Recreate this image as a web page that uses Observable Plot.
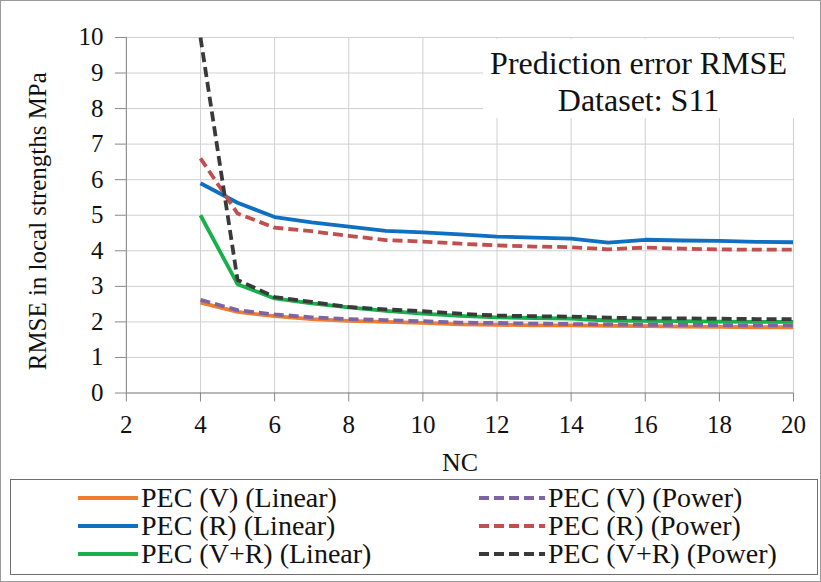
<!DOCTYPE html>
<html><head><meta charset="utf-8">
<script src="https://cdn.jsdelivr.net/npm/d3@7"></script>
<script src="https://cdn.jsdelivr.net/npm/@observablehq/plot@0.6"></script>
<style>
html,body{margin:0;padding:0;background:#fff;}
#wrap{position:relative;width:819px;height:580px;border:1px solid #9a9a9a;font-family:'Liberation Serif';overflow:hidden;}
#chart{position:absolute;left:-1px;top:-1px;}
#titlebox{position:absolute;left:482px;top:38px;width:311px;height:79px;background:#fff;text-align:center;font-size:32px;line-height:37px;color:#111;padding-top:6px;box-sizing:border-box;font-family:'Liberation Serif';white-space:nowrap;}
#legend{position:absolute;left:9px;top:478px;width:808px;height:96px;border:1px solid #6e6e6e;box-sizing:border-box;background:#fff;}
.item{position:absolute;height:28px;display:flex;align-items:center;font-size:28px;line-height:28px;color:#111;white-space:nowrap;font-family:'Liberation Serif';}
.item svg{margin-right:3px;}
</style></head>
<body>
<div id="wrap">
  <div id="chart"></div>
  <div id="titlebox">Prediction error RMSE<br>Dataset: S11</div>
  <div id="legend"></div>
</div>
<script>
const nc = [4,5,6,7,8,9,10,11,12,13,14,15,16,17,18,19,20];
const vLinear  = [2.54,2.28,2.16,2.08,2.03,2.00,1.97,1.93,1.92,1.90,1.90,1.89,1.88,1.87,1.86,1.85,1.85];
const vPower   = [2.62,2.33,2.21,2.13,2.08,2.05,2.02,1.98,1.97,1.95,1.94,1.93,1.92,1.92,1.91,1.90,1.90];
const rLinear  = [5.90,5.35,4.95,4.80,4.68,4.56,4.52,4.46,4.40,4.37,4.34,4.23,4.31,4.29,4.28,4.25,4.24];
const rPower   = [6.60,5.05,4.65,4.55,4.42,4.30,4.26,4.20,4.15,4.12,4.10,4.04,4.09,4.06,4.04,4.03,4.03];
const vrLinear = [5.00,3.06,2.66,2.52,2.41,2.31,2.23,2.17,2.13,2.11,2.09,2.04,2.03,2.02,2.01,2.00,2.00];
const vrPower  = [10.0,3.18,2.70,2.56,2.42,2.35,2.30,2.23,2.18,2.16,2.15,2.12,2.10,2.10,2.09,2.08,2.08];
const xTicks = [2,4,6,8,10,12,14,16,18,20];
const yTicks = [0,1,2,3,4,5,6,7,8,9,10];

const series = [
  {name:"PEC (V) (Linear)", values:vLinear, color:"#ED7D31", dash:null},
  {name:"PEC (R) (Linear)", values:rLinear, color:"#0F6FC0", dash:null},
  {name:"PEC (V+R) (Linear)", values:vrLinear, color:"#17B04A", dash:null},
  {name:"PEC (V) (Power)", values:vPower, color:"#8064A2", dash:"10,5"},
  {name:"PEC (R) (Power)", values:rPower, color:"#C0504D", dash:"10,5"},
  {name:"PEC (V+R) (Power)", values:vrPower, color:"#3A3A3A", dash:"10,5"}
];
const rows = s => nc.map((x,i)=>({x, y:s.values[i]}));
const FONT = "'Liberation Serif'";

const plot = Plot.plot({
  width: 821, height: 582,
  marginLeft: 126, marginRight: 27, marginTop: 37, marginBottom: 189,
  style: {fontFamily:FONT, fontSize:"25px", color:"#111", background:"transparent"},
  x: {domain:[2,20], ticks:xTicks, label:null},
  y: {domain:[0,10], ticks:yTicks, label:null},
  marks: [
    Plot.gridX(xTicks, {stroke:"#d0d0d0", strokeOpacity:1}),
    Plot.gridY(yTicks, {stroke:"#d0d0d0", strokeOpacity:1}),
    Plot.ruleX([2], {stroke:"#888"}),
    Plot.ruleY([0], {stroke:"#888"}),
    Plot.axisX({ticks:xTicks, tickSize:9, tickPadding:13, stroke:"#888", label:null, fontFamily:FONT, fontSize:25}),
    Plot.axisY({ticks:yTicks, tickSize:11, tickPadding:12, stroke:"#888", label:null, fontFamily:FONT, fontSize:25}),
    ...series.map(s => Plot.line(rows(s), {x:"x", y:"y", stroke:s.color, strokeWidth:3.8, strokeDasharray:s.dash, strokeLinecap:"butt", strokeLinejoin:"round", clip:true})),
    Plot.text(["NC"], {frameAnchor:"bottom", lineAnchor:"middle", dy:70, fontSize:26, fontFamily:FONT}),
    Plot.text(["RMSE in local strengths MPa"], {frameAnchor:"left", dx:-88, dy:6, rotate:-90, textAnchor:"middle", fontSize:25, fontFamily:FONT})
  ]
});
document.getElementById("chart").appendChild(plot);

const legend = document.getElementById("legend");
series.forEach((s,i)=>{
  const col = i<3 ? 0 : 1, row = i%3;
  const d = document.createElement("div");
  d.className="item";
  d.style.left = (col===0 ? 67 : 468) + "px";
  d.style.top = (4 + row*28) + "px";
  const w = col===0 ? 60 : 66;
  d.innerHTML = `<svg width="${w}" height="10"><line x1="0" x2="${w}" y1="5" y2="5" stroke="${s.color}" stroke-width="3.8" ${s.dash?`stroke-dasharray="${s.dash}"`:""}/></svg><span>${s.name}</span>`;
  legend.appendChild(d);
});
</script>
</body></html>
